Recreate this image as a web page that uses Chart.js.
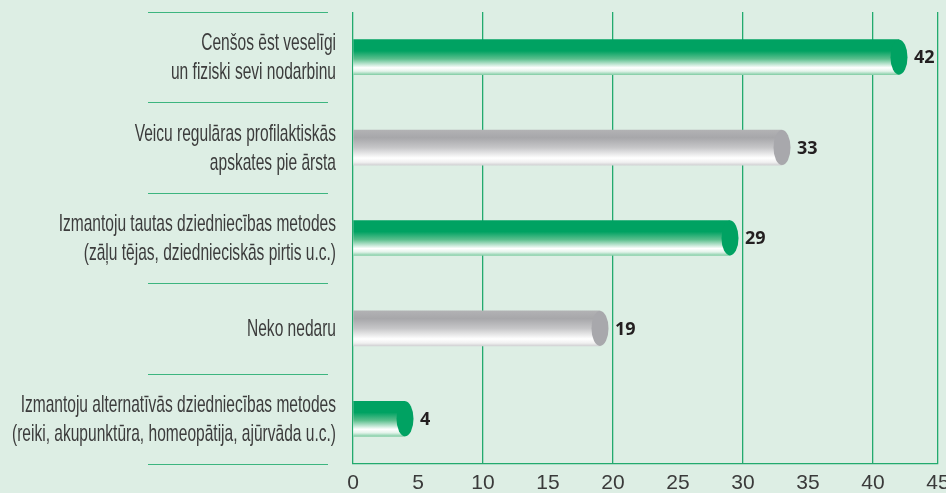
<!DOCTYPE html>
<html>
<head>
<meta charset="utf-8">
<script src="https://cdn.jsdelivr.net/npm/chart.js@4.4.0/dist/chart.umd.min.js"></script>
<style>
    html, body { margin: 0; padding: 0; background: #ddeee4; }
    #wrap { width: 946px; height: 493px; }
</style>
</head>
<body>
<div id="wrap"><canvas id="healthChart" width="946" height="493"></canvas></div>
<script>
// Chart data
const categories = [
    ['Cenšos ēst veselīgi', 'un fiziski sevi nodarbinu'],
    ['Veicu regulāras profilaktiskās', 'apskates pie ārsta'],
    ['Izmantoju tautas dziedniecības metodes', '(zāļu tējas, dziednieciskās pirtis u.c.)'],
    ['Neko nedaru'],
    ['Izmantoju alternatīvās dziedniecības metodes', '(reiki, akupunktūra, homeopātija, ajūrvāda u.c.)']
];
const values = [42, 33, 29, 19, 4];
const barKinds = ['green', 'gray', 'green', 'gray', 'green'];
const xMin = 0;
const xMax = 45;
const xStep = 5;

// Colours
const palette = {
    green: {
        cap: '#00a262',
        stops: [[0, '#00a262'], [0.32, '#00a262'], [0.55, '#5cbf8e'], [0.8, '#ffffff'], [0.9, '#e3f3ea'], [1, '#86cfa8']]
    },
    gray: {
        cap: '#a8a8ac',
        stops: [[0, '#b2b2b4'], [0.22, '#a7a7aa'], [0.5, '#c6c6c8'], [0.8, '#ffffff'], [0.92, '#f0f0f0'], [1, '#d2d2d4']]
    }
};
const gridColor = '#22aa6e';
const sepColor = '#3cb57f';
const labelFont = '"Liberation Sans Narrow", "Liberation Sans", sans-serif';
const BAR_H = 35;
const CAP_RX = 8.5;

function barGradient(context) {
    const chart = context.chart;
    const kind = palette[barKinds[context.dataIndex]] || palette.green;
    const yScale = chart.scales.y;
    if (!yScale) return kind.cap;
    const yc = yScale.getPixelForValue(context.dataIndex);
    if (!isFinite(yc)) return kind.cap;
    const g = chart.ctx.createLinearGradient(0, yc - BAR_H / 2, 0, yc + BAR_H / 2);
    kind.stops.forEach(function(s) {
        g.addColorStop(s[0], s[1]);
    });
    return g;
}

// Separators + category labels on the left
const leftLabels = {
    id: 'leftLabels',
    afterDraw(chart) {
        const ctx = chart.ctx;
        const y = chart.scales.y;
        ctx.save();
        ctx.strokeStyle = sepColor;
        ctx.lineWidth = 1.2;
        for (let i = 0; i <= categories.length; i++) {
            const py = Math.round(y.getPixelForValue(i - 0.5)) + 0.5;
            ctx.beginPath();
            ctx.moveTo(148, py);
            ctx.lineTo(328, py);
            ctx.stroke();
        }

        ctx.font = '24px ' + labelFont;
        ctx.fillStyle = '#3c3c3c';
        ctx.textAlign = 'right';
        ctx.textBaseline = 'middle';
        let widest = 0;
        categories.forEach(function(lines) {
            lines.forEach(function(l) { widest = Math.max(widest, ctx.measureText(l).width); });
        });
        const sx = Math.min(1, 324 / widest);
        const right = 336;
        const lineGap = 29;
        categories.forEach(function(lines, i) {
            const yc = y.getPixelForValue(i);
            const start = yc - (lines.length - 1) * lineGap / 2;
            lines.forEach(function(l, k) {
                ctx.save();
                ctx.scale(sx, 1);
                ctx.fillText(l, right / sx, start + k * lineGap + 1);
                ctx.restore();
            });
        });
        ctx.restore();
    }
};

// Cylinder caps + value labels
const barCaps = {
    id: 'barCaps',
    afterDatasetsDraw(chart) {
        const ctx = chart.ctx;
        const meta = chart.getDatasetMeta(0);
        ctx.save();
        meta.data.forEach(function(bar, i) {
            ctx.fillStyle = palette[barKinds[i]].cap;
            ctx.beginPath();
            ctx.ellipse(bar.x, bar.y, CAP_RX, bar.height / 2, 0, 0, Math.PI * 2);
            ctx.fill();

            ctx.font = 'bold 18px "Open Sans", "Liberation Sans", sans-serif';
            ctx.fillStyle = '#231f20';
            ctx.textAlign = 'left';
            ctx.textBaseline = 'middle';
            ctx.fillText(String(values[i]), bar.x + 15, bar.y + 1);
        });
        ctx.restore();
    }
};

const chart = new Chart(document.getElementById('healthChart'), {
    type: 'bar',
    data: {
        labels: categories,
        datasets: [{
            data: values,
            backgroundColor: barGradient,
            borderWidth: 0,
            borderSkipped: false,
            barThickness: BAR_H
        }]
    },
    options: {
        indexAxis: 'y',
        responsive: false,
        devicePixelRatio: 1,
        animation: false,
        layout: { padding: { top: 12, right: 8, bottom: 0, left: 0 } },
        plugins: {
            legend: { display: false },
            tooltip: { enabled: false }
        },
        scales: {
            x: {
                min: xMin,
                max: xMax,
                ticks: {
                    stepSize: xStep,
                    padding: 7,
                    color: '#3a3a3a',
                    font: { family: labelFont, size: 21 }
                },
                grid: {
                    drawTicks: false,
                    lineWidth: 1.3,
                    color: function(ctx) {
                        const v = ctx.tick && ctx.tick.value;
                        return (v % 10 === 0 || v === xMax) ? gridColor : 'rgba(0,0,0,0)';
                    }
                },
                border: { display: true, color: gridColor, width: 1.3 },
                afterFit: function(scale) {
                    scale.height = 29;
                    scale.paddingLeft = 0;
                    scale.paddingRight = 0;
                }
            },
            y: {
                ticks: { display: false },
                grid: { display: false, drawTicks: false },
                border: { display: false },
                afterFit: function(scale) {
                    scale.width = 353;
                }
            }
        }
    },
    plugins: [leftLabels, barCaps]
});
</script>
</body>
</html>
